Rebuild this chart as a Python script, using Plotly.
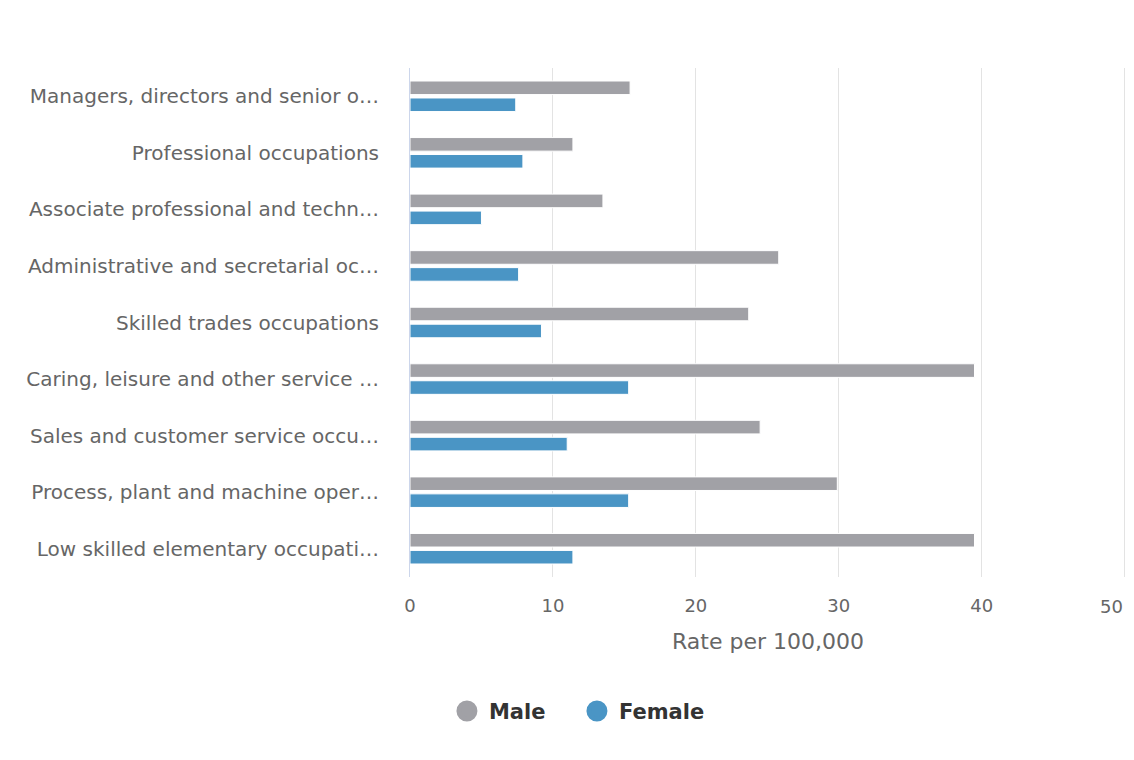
import plotly.graph_objects as go

categories = [
    "Managers, directors and senior o…",
    "Professional occupations",
    "Associate professional and techn…",
    "Administrative and secretarial oc…",
    "Skilled trades occupations",
    "Caring, leisure and other service …",
    "Sales and customer service occu…",
    "Process, plant and machine oper…",
    "Low skilled elementary occupati…",
]
male = [15.4, 11.4, 13.5, 25.8, 23.7, 39.5, 24.5, 29.9, 39.5]
female = [7.4, 7.9, 5.0, 7.6, 9.2, 15.3, 11.0, 15.3, 11.4]
x_ticks = [0, 10, 20, 30, 40, 50]
x_tick_labels = ["0", "10", "20", "30", "40", "50"]

MALE_C = "#a1a1a6"
FEMALE_C = "#4a95c5"
FONT = "DejaVu Sans"

fig = go.Figure()
fig.add_trace(go.Bar(y=categories, x=male, orientation="h", name="Male",
                     marker=dict(color=MALE_C, line=dict(color="white", width=1)),
                     showlegend=False))
fig.add_trace(go.Bar(y=categories, x=female, orientation="h", name="Female",
                     marker=dict(color=FEMALE_C, line=dict(color="white", width=1)),
                     showlegend=False))
# legend entries with circle symbols
fig.add_trace(go.Scatter(x=[None], y=[None], mode="markers", name="Male",
                         marker=dict(symbol="circle", size=16, color=MALE_C,
                                     line=dict(color=MALE_C, width=5))))
fig.add_trace(go.Scatter(x=[None], y=[None], mode="markers", name="Female",
                         marker=dict(symbol="circle", size=16, color=FEMALE_C,
                                     line=dict(color=FEMALE_C, width=5))))

# the last tick label is right-aligned to its gridline (as in the reference)
shown_labels = x_tick_labels[:-1] + [""]
fig.add_annotation(x=x_ticks[-1], xref="x", y=0, yref="paper",
                   text=x_tick_labels[-1], showarrow=False,
                   xanchor="right", yanchor="middle", yshift=-29,
                   font=dict(family=FONT, size=18, color="#666666"))

fig.update_layout(
    width=1134, height=760,
    margin=dict(l=410, r=8, t=68, b=183, autoexpand=False),
    paper_bgcolor="white", plot_bgcolor="white",
    barmode="group", bargap=0.4, bargroupgap=0.2,
    font=dict(family=FONT, color="#666666", size=16),
    legend=dict(orientation="h", xref="container", yref="container",
                x=0.507, xanchor="center", y=0.064, yanchor="middle",
                font=dict(family=FONT, size=21, color="#333333", weight="bold"),
                itemsizing="trace", itemwidth=34, tracegroupgap=0,
                entrywidth=81, entrywidthmode="pixels"),
)
fig.update_xaxes(
    range=[0, 50.1], tickvals=x_ticks, ticktext=shown_labels,
    showgrid=True, gridcolor="#e3e3e3",
    gridwidth=1, zeroline=False, showline=False, automargin=False,
    tickfont=dict(size=18, color="#666666"), ticklabelstandoff=16,
    title=dict(text="Rate per 100,000", font=dict(size=22, color="#666666"), standoff=18),
)
fig.update_yaxes(
    autorange="reversed", showgrid=False, zeroline=False, automargin=False,
    showline=True, linecolor="#ccd6eb", linewidth=1,
    tickfont=dict(size=20, color="#666666"), ticklabelstandoff=26,
)
fig.write_html("out.html")
